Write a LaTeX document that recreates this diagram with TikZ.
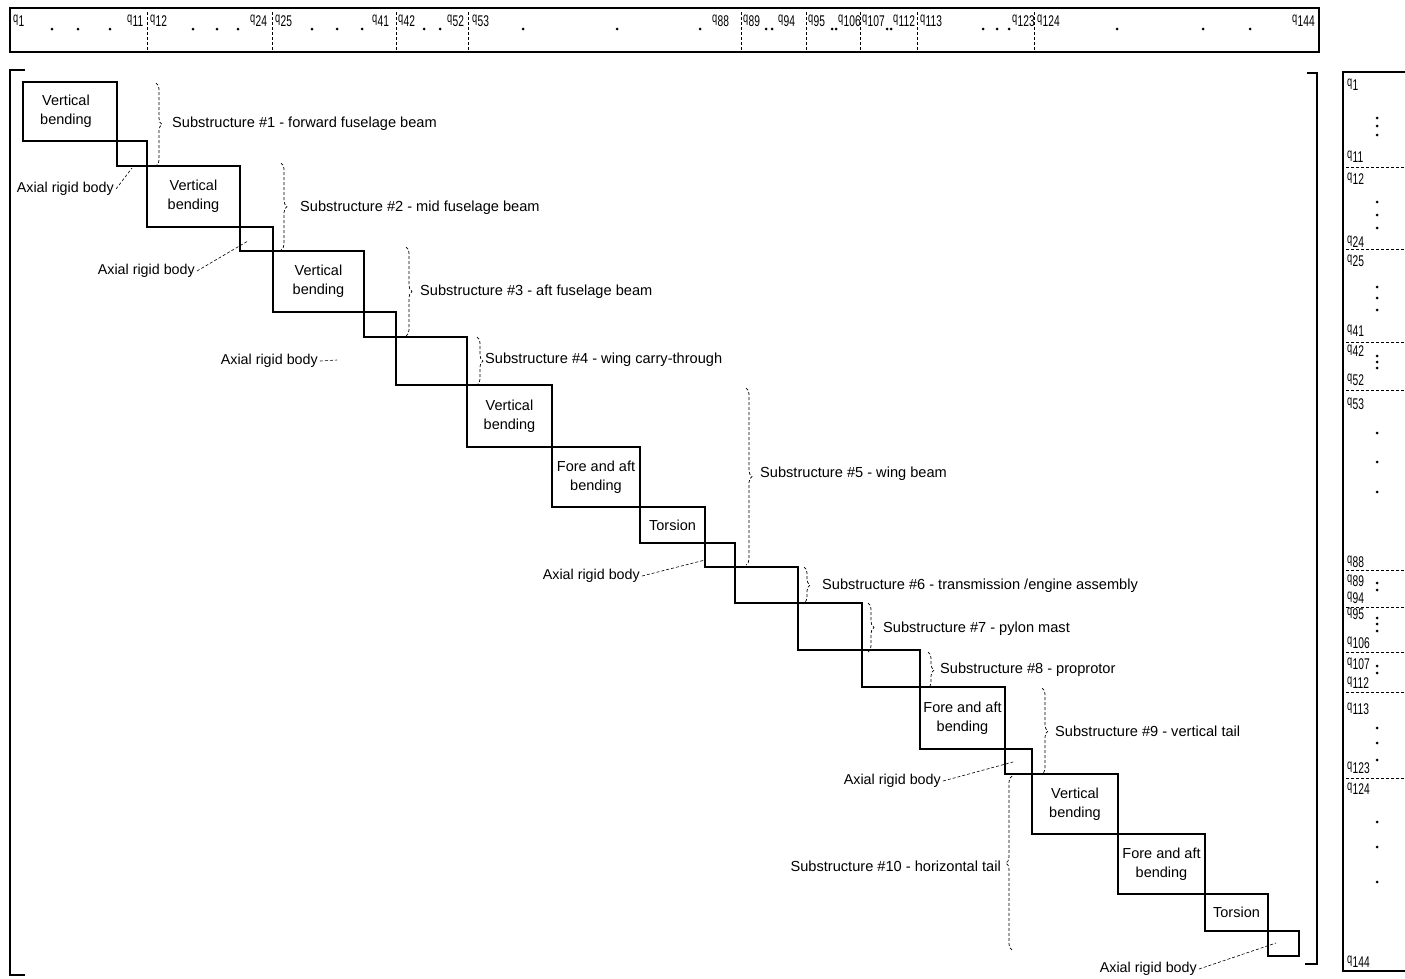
\documentclass[tikz,border=0pt]{standalone}
\usepackage{fontspec}
\setmainfont{Liberation Sans}
\newfontfamily\lblfont[FakeStretch=0.66]{Liberation Sans}
\usetikzlibrary{calc,decorations.pathreplacing}
\newcommand\ql[1]{q\kern0.3pt\raisebox{-4.5pt}{\fontsize{15.5}{15.5}\selectfont #1}}
\begin{document}
\begin{tikzpicture}[x=1pt,y=-1pt,
  blk/.style={draw=black,line width=1.3pt},
  btxt/.style={font=\fontsize{14.5}{19}\selectfont,align=center,inner sep=0pt},
  sublbl/.style={font=\fontsize{14.6}{17}\selectfont,anchor=west,inner sep=0pt},
  axlbl/.style={font=\fontsize{14.3}{16}\selectfont,anchor=east,inner sep=0pt},
  leader/.style={densely dashed,line width=0.6pt},
  brc/.style={decorate,decoration={brace,amplitude=6pt},densely dashed,line width=0.7pt},
  divider/.style={densely dashed,line width=0.9pt},
  frame/.style={line width=1.4pt},
  qlbl/.style={font=\lblfont\fontsize{14}{14}\selectfont,inner sep=0pt,anchor=base west},
  dotm/.style={fill=black}
]
\useasboundingbox (0,0) rectangle (1405,978);

% ---------- top row vector ----------
\draw[frame] (10,8) rectangle (1319,52);
\foreach \x in {147,272,396,468,741,806,860,917,1034}
  \draw[divider] (\x,12) -- (\x,50);
\node[qlbl] (t1)   at (13,22)   {\ql{1}};
\node[qlbl] (t11)  at (127,22)  {\ql{11}};
\node[qlbl] (t12)  at (150,22)  {\ql{12}};
\node[qlbl] (t24)  at (250,22)  {\ql{24}};
\node[qlbl] (t25)  at (275,22)  {\ql{25}};
\node[qlbl] (t41)  at (372,22)  {\ql{41}};
\node[qlbl] (t42)  at (398,22)  {\ql{42}};
\node[qlbl] (t52)  at (447,22)  {\ql{52}};
\node[qlbl] (t53)  at (472,22)  {\ql{53}};
\node[qlbl] (t88)  at (712,22)  {\ql{88}};
\node[qlbl] (t89)  at (743,22)  {\ql{89}};
\node[qlbl] (t94)  at (778,22)  {\ql{94}};
\node[qlbl] (t95)  at (808,22)  {\ql{95}};
\node[qlbl] (t106) at (838,22)  {\ql{106}};
\node[qlbl] (t107) at (862,22)  {\ql{107}};
\node[qlbl] (t112) at (893,22)  {\ql{112}};
\node[qlbl] (t113) at (920,22)  {\ql{113}};
\node[qlbl] (t123) at (1012,22) {\ql{123}};
\node[qlbl] (t124) at (1037,22) {\ql{124}};
\node[qlbl] (t144) at (1292,22) {\ql{144}};
\foreach \x in {52,78,110,193,217,238,312,337,362,424,440,523,617,700,766,772,832,836,887,891,983,997,1009,1117,1203,1250}
  \fill[dotm] (\x,29) circle (1.5pt);

% ---------- right column vector ----------
\draw[frame] (1405,72) -- (1343,72) -- (1343,971) -- (1405,971);
\foreach \y in {167,249,342,390,570,607,652,692,778}
  \draw[divider] (1346,\y) -- (1405,\y);
\node[qlbl] (r1)   at (1347,86)  {\ql{1}};
\node[qlbl] (r11)  at (1347,158) {\ql{11}};
\node[qlbl] (r12)  at (1347,180) {\ql{12}};
\node[qlbl] (r24)  at (1347,243) {\ql{24}};
\node[qlbl] (r25)  at (1347,262) {\ql{25}};
\node[qlbl] (r41)  at (1347,332) {\ql{41}};
\node[qlbl] (r42)  at (1347,352) {\ql{42}};
\node[qlbl] (r52)  at (1347,381) {\ql{52}};
\node[qlbl] (r53)  at (1347,405) {\ql{53}};
\node[qlbl] (r88)  at (1347,563) {\ql{88}};
\node[qlbl] (r89)  at (1347,582) {\ql{89}};
\node[qlbl] (r94)  at (1347,599) {\ql{94}};
\node[qlbl] (r95)  at (1347,615) {\ql{95}};
\node[qlbl] (r106) at (1347,644) {\ql{106}};
\node[qlbl] (r107) at (1347,665) {\ql{107}};
\node[qlbl] (r112) at (1347,684) {\ql{112}};
\node[qlbl] (r113) at (1347,710) {\ql{113}};
\node[qlbl] (r123) at (1347,769) {\ql{123}};
\node[qlbl] (r124) at (1347,790) {\ql{124}};
\node[qlbl] (r144) at (1347,963) {\ql{144}};
\foreach \y in {118,126,135,202,215,228,287,298,310,356,362,368,433,462,492,583,590,618,624,631,666,673,728,743,760,822,847,882}
  \fill[dotm] (1377,\y) circle (1.5pt);

% ---------- matrix brackets ----------
\draw[frame] (25,70) -- (10,70) -- (10,975) -- (25,975);
\draw[frame] (1307,73) -- (1317,73) -- (1317,964) -- (1305,964);

% ---------- staircase of blocks ----------
\coordinate (P0) at (23,82);
\coordinate (P1) at (117,141);
\coordinate (P2) at (147,166);
\coordinate (P3) at (240,227);
\coordinate (P4) at (273,251);
\coordinate (P5) at (364,312);
\coordinate (P6) at (396,337);
\coordinate (P7) at (467,385);
\coordinate (P8) at (552,447);
\coordinate (P9) at (640,507);
\coordinate (P10) at (705,543);
\coordinate (P11) at (735,567);
\coordinate (P12) at (798,603);
\coordinate (P13) at (862,650);
\coordinate (P14) at (920,687);
\coordinate (P15) at (1005,749);
\coordinate (P16) at (1032,774);
\coordinate (P17) at (1118,834);
\coordinate (P18) at (1205,894);
\coordinate (P19) at (1268,931);
\coordinate (P20) at (1299,956);
\foreach \a [evaluate=\a as \b using int(\a+1)] in {0,...,19}
  \draw[blk] (P\a) rectangle (P\b);

\node[btxt] (vb1)  at ($(P0)!.5!(P1)+(-4,0)$) {Vertical\\bending};
\node[btxt] (vb2)  at ($(P2)!.5!(P3)$)   {Vertical\\bending};
\node[btxt] (vb3)  at ($(P4)!.5!(P5)$)   {Vertical\\bending};
\node[btxt] (vb4)  at ($(P7)!.5!(P8)$)   {Vertical\\bending};
\node[btxt] (fa5)  at ($(P8)!.5!(P9)$)   {Fore and aft\\bending};
\node[btxt] (to5)  at ($(P9)!.5!(P10)$)  {Torsion};
\node[btxt] (fa9)  at ($(P14)!.5!(P15)$) {Fore and aft\\bending};
\node[btxt] (vb10) at ($(P16)!.5!(P17)$) {Vertical\\bending};
\node[btxt] (fa10) at ($(P17)!.5!(P18)$) {Fore and aft\\bending};
\node[btxt] (to10) at ($(P18)!.5!(P19)$) {Torsion};

% ---------- substructure braces ----------
\coordinate (b1t) at (156,83);   \coordinate (b1b) at (156,166);
\coordinate (b2t) at (281,163);  \coordinate (b2b) at (281,250);
\coordinate (b3t) at (406,247);  \coordinate (b3b) at (406,336);
\coordinate (b4t) at (477,337);  \coordinate (b4b) at (477,385);
\coordinate (b5t) at (746,388);  \coordinate (b5b) at (746,565);
\coordinate (b6t) at (804,567);  \coordinate (b6b) at (804,603);
\coordinate (b7t) at (868,603);  \coordinate (b7b) at (868,652);
\coordinate (b8t) at (928,652);  \coordinate (b8b) at (928,688);
\coordinate (b9t) at (1042,688); \coordinate (b9b) at (1042,774);
\coordinate (b10t) at (1012,776); \coordinate (b10b) at (1012,950);
\foreach \i in {1,...,9} \draw[brc] (b\i t) -- (b\i b);
\draw[brc] (b10b) -- (b10t);

\node[sublbl] (s1) at (172,124) {Substructure \#1 - forward fuselage beam};
\node[sublbl] (s2) at (300,208) {Substructure \#2 - mid fuselage beam};
\node[sublbl] (s3) at (420,292) {Substructure \#3 - aft fuselage beam};
\node[sublbl] (s4) at (485,360) {Substructure \#4 - wing carry-through};
\node[sublbl] (s5) at (760,474) {Substructure \#5 - wing beam};
\node[sublbl] (s6) at (822,586) {Substructure \#6 - transmission /engine assembly};
\node[sublbl] (s7) at (883,629) {Substructure \#7 - pylon mast};
\node[sublbl] (s8) at (940,670) {Substructure \#8 - proprotor};
\node[sublbl] (s9) at (1055,731) {Substructure \#9 - vertical tail};
\node[sublbl,anchor=east] (s10) at (1001,866) {Substructure \#10 - horizontal tail};

% ---------- axial rigid body labels ----------
\node[axlbl] (a1) at (114,189) {Axial rigid body};
\node[axlbl] (a2) at (195,271) {Axial rigid body};
\node[axlbl] (a3) at (318,361) {Axial rigid body};
\node[axlbl] (a4) at (640,576) {Axial rigid body};
\node[axlbl] (a5) at (941,781) {Axial rigid body};
\node[axlbl] (a6) at (1197,969) {Axial rigid body};
\coordinate (e1) at (132,168);
\coordinate (e2) at (248,241);
\coordinate (e3) at (337,360);
\coordinate (e4) at (705,560);
\coordinate (e5) at (1013,762);
\coordinate (e6) at (1276,943);
\foreach \i in {1,...,6} \draw[leader] ([xshift=2pt]a\i.east) -- (e\i);
\end{tikzpicture}
\end{document}
